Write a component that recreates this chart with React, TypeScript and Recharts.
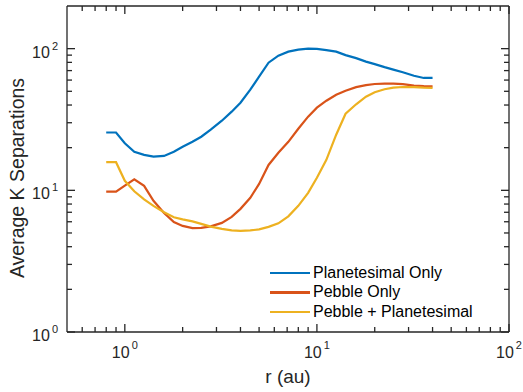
import { LineChart, Line, XAxis, YAxis, Legend } from "recharts";

const rValues = [0.8, 0.9, 1.0, 1.12, 1.26, 1.41, 1.6, 1.8, 2.0, 2.25, 2.5, 2.8, 3.2, 3.6, 4.0, 4.5, 5.0, 5.6, 6.3, 7.1, 8.0, 9.0, 10, 11.2, 12.6, 14.1, 16, 18, 20, 22.5, 25, 28, 32, 36, 40];
const planetesimalOnly = [25.6, 25.6, 21.5, 18.7, 17.8, 17.3, 17.5, 18.7, 20.3, 22.0, 23.9, 26.8, 31.0, 35.9, 41.5, 51.3, 63.4, 79.6, 89.3, 95.2, 98.4, 100, 99.5, 97.6, 95.2, 90, 85.7, 81, 77.7, 74, 71.1, 68.2, 64.4, 62.1, 62.1];
const pebbleOnly = [9.8, 9.8, 10.8, 11.97, 10.75, 8.43, 6.93, 5.98, 5.61, 5.41, 5.44, 5.57, 5.89, 6.5, 7.4, 8.85, 11.1, 15.1, 18.4, 22.0, 27.2, 33.1, 38.3, 42.9, 47.3, 50.5, 53.5, 55.2, 56.3, 56.6, 56.6, 56.1, 54.8, 54.3, 54.2];
const pebblePlanetesimal = [15.8, 15.8, 11.67, 9.84, 8.64, 7.77, 7.0, 6.45, 6.24, 6.04, 5.8, 5.54, 5.35, 5.21, 5.17, 5.21, 5.3, 5.52, 5.85, 6.55, 7.77, 9.6, 12.25, 16.4, 24.7, 34.7, 40.5, 45.8, 49.3, 51.7, 53, 53.6, 53.5, 53, 52.8];

const seriesNames = ["Planetesimal Only", "Pebble Only", "Pebble + Planetesimal"];
const xTicks = [0.6, 0.7, 0.8, 0.9, 1, 2, 3, 4, 5, 6, 7, 8, 9, 10, 20, 30, 40, 50, 60, 70, 80, 90, 100];
const yTicks = [1, 2, 3, 4, 5, 6, 7, 8, 9, 10, 20, 30, 40, 50, 60, 70, 80, 90, 100];

const data = rValues.map((r, i) => ({
  r,
  planetesimal: planetesimalOnly[i],
  pebble: pebbleOnly[i],
  both: pebblePlanetesimal[i],
}));

const FONT = "'Liberation Sans', Arial, Helvetica, sans-serif";
const AXIS = "#262626";

const isPow10 = (v: number) => {
  const l = Math.log10(v);
  return Math.abs(l - Math.round(l)) < 1e-9;
};

// ticks drawn inward, labels only on the decades
function makeTick(side: "bottom" | "top" | "left" | "right", labeled: boolean) {
  return (props: any) => {
    const { x, y, payload } = props;
    const v = payload.value;
    const major = isPow10(v);
    const len = major ? 8 : 5;
    let x2 = x, y2 = y;
    if (side === "bottom") y2 = y - len;
    if (side === "top") y2 = y + len;
    if (side === "left") x2 = x + len;
    if (side === "right") x2 = x - len;
    const exp = Math.round(Math.log10(v));
    return (
      <g>
        <line x1={x} y1={y} x2={x2} y2={y2} stroke={AXIS} strokeWidth={1.3} />
        {labeled && major && side === "bottom" && (
          <text x={x} y={y + 26} textAnchor="middle" fill={AXIS} fontSize={16} fontFamily={FONT}>
            10<tspan dx={2} dy={-9} fontSize={11}>{exp}</tspan>
          </text>
        )}
        {labeled && major && side === "left" && (
          <text x={x - 9} y={y + 9} textAnchor="end" fill={AXIS} fontSize={16} fontFamily={FONT}>
            10<tspan dx={2} dy={-8} fontSize={11}>{exp}</tspan>
          </text>
        )}
      </g>
    );
  };
}

function renderLegend(props: any) {
  const items = [...props.payload].sort(
    (a: any, b: any) => seriesNames.indexOf(a.value) - seriesNames.indexOf(b.value)
  );
  return (
    <div style={{ fontFamily: FONT, fontSize: 16, color: "#000" }}>
      {items.map((e: any) => (
        <div key={e.value} style={{ display: "flex", alignItems: "center", height: 19.5 }}>
          <span style={{ width: 40, height: 2.5, background: e.color, marginRight: 3 }} />
          <span>{e.value}</span>
        </div>
      ))}
    </div>
  );
}

export default function App() {
  return (
    <div style={{ position: "absolute", left: 0, top: 0, width: 523, height: 392, background: "#fff" }}>
      <LineChart
        width={523}
        height={392}
        data={data}
        margin={{ top: 5, right: 13, bottom: 20, left: 17 }}
      >
        <XAxis
          dataKey="r"
          type="number"
          scale="log"
          domain={[0.5, 100]}
          allowDataOverflow
          ticks={xTicks}
          interval={0}
          tickSize={0}
          tickMargin={0}
          tickLine={false}
          tick={makeTick("bottom", true)}
          axisLine={{ stroke: AXIS, strokeWidth: 1.3 }}
          height={40}
          label={{ value: "r (au)", position: "insideBottom", offset: -11, fill: AXIS, fontSize: 19, fontFamily: FONT }}
        />
        <XAxis
          xAxisId="top"
          orientation="top"
          dataKey="r"
          type="number"
          scale="log"
          domain={[0.5, 100]}
          allowDataOverflow
          ticks={xTicks}
          interval={0}
          tickSize={0}
          tickMargin={0}
          tickLine={false}
          tick={makeTick("top", false)}
          axisLine={{ stroke: AXIS, strokeWidth: 1.3 }}
          height={1}
        />
        <YAxis
          type="number"
          scale="log"
          domain={[1, 200]}
          allowDataOverflow
          ticks={yTicks}
          interval={0}
          tickSize={0}
          tickMargin={0}
          tickLine={false}
          tick={makeTick("left", true)}
          axisLine={{ stroke: AXIS, strokeWidth: 1.3 }}
          width={50}
          label={{ value: "Average K Separations", angle: -90, position: "center", dx: -25, dy: 9, fill: AXIS, fontSize: 19.5, fontFamily: FONT }}
        />
        <YAxis
          yAxisId="right"
          orientation="right"
          type="number"
          scale="log"
          domain={[1, 200]}
          allowDataOverflow
          ticks={yTicks}
          interval={0}
          tickSize={0}
          tickMargin={0}
          tickLine={false}
          tick={makeTick("right", false)}
          axisLine={{ stroke: AXIS, strokeWidth: 1.3 }}
          width={1}
        />
        <Legend
          layout="vertical"
          align="center"
          verticalAlign="middle"
          wrapperStyle={{ left: 270, top: 263 }}
          content={renderLegend}
        />
        <Line name={seriesNames[0]} dataKey="planetesimal" stroke="#0072BD" strokeWidth={2.2} dot={false} type="linear" isAnimationActive={false} />
        <Line name={seriesNames[1]} dataKey="pebble" stroke="#D95319" strokeWidth={2.2} dot={false} type="linear" isAnimationActive={false} />
        <Line name={seriesNames[2]} dataKey="both" stroke="#EDB120" strokeWidth={2.2} dot={false} type="linear" isAnimationActive={false} />
      </LineChart>
    </div>
  );
}
